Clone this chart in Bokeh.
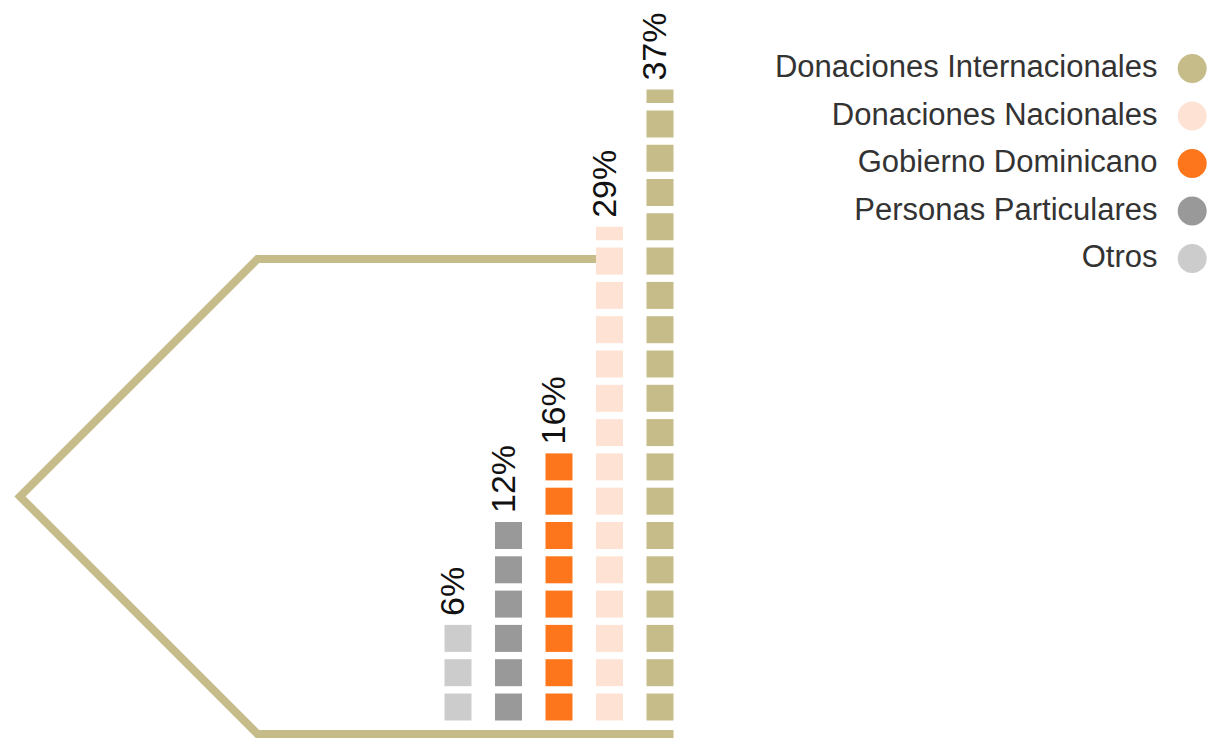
import math
from bokeh.plotting import figure
from bokeh.models import Range1d
from bokeh.core.properties import value
from bokeh.embed import file_html
from bokeh.resources import INLINE

# ---------------- data ----------------
categories = ["Otros", "Personas Particulares", "Gobierno Dominicano",
              "Donaciones Nacionales", "Donaciones Internacionales"]
values = [6, 12, 16, 29, 37]
labels = ["6%", "12%", "16%", "29%", "37%"]
colors = ["#cccccc", "#999999", "#fd761b", "#fee3d5", "#c6bc8a"]
legend_order = ["Donaciones Internacionales", "Donaciones Nacionales",
                "Gobierno Dominicano", "Personas Particulares", "Otros"]
PCT_PER_SQUARE = 2

# ---------------- geometry (styles) ----------------
OX, OY = 0, 0          # page offset of the figure
W, H = 1208, 738
PX_PER_PCT = 17.15     # vertical scale
Y0_PX = 720            # page pixel of 0 %
X0_PX = 457.5          # page pixel of first column centre
PX_PER_COL = 50.5      # column pitch
SQ_PX = 27             # square size
LINE_COLOR = "#c6bc8a"


def dx(px):
    return (px - X0_PX) / PX_PER_COL


def dy(py):
    return (Y0_PX - py) / PX_PER_PCT


p = figure(width=W, height=H,
           x_range=Range1d(dx(OX), dx(OX + W)),
           y_range=Range1d(dy(OY + H), dy(OY)),
           output_backend="svg", toolbar_location=None,
           x_axis_location=None, y_axis_location=None,
           min_border=0)
p.grid.visible = False
p.outline_line_color = None
p.background_fill_color = "white"
p.border_fill_color = "white"

half_w = SQ_PX / 2 / PX_PER_COL
sq_h = SQ_PX / PX_PER_PCT

# bracket line
n_cols = len(values)
bx = [n_cols - 1 + half_w, dx(257), dx(19.5), dx(257), 3 - half_w]
by = [dy(733.5), dy(733.5), dy(496), dy(258.5), dy(258.5)]
p.line(bx, by, line_color=LINE_COLOR, line_width=8, line_join="miter")

# squares
left, right, bottom, top, fill = [], [], [], [], []
label_x, label_y = [], []
for i, (v, c) in enumerate(zip(values, colors)):
    n = v / PCT_PER_SQUARE
    k = 0
    t = 0
    while k < n:
        frac = min(1.0, n - k)
        b = k * PCT_PER_SQUARE
        left.append(i - half_w)
        right.append(i + half_w)
        bottom.append(b)
        top.append(b + sq_h * frac)
        fill.append(c)
        t = b + sq_h * frac
        k += 1
    label_x.append(i - 6 / PX_PER_COL)
    label_y.append(t + 9 / PX_PER_PCT)

p.quad(left=left, right=right, bottom=bottom, top=top,
       fill_color=fill, line_color=None)

p.text(x=label_x, y=label_y, text=labels, angle=math.pi / 2,
       text_align="left", text_baseline="alphabetic",
       text_font_size="34px", text_color="#111111",
       text_font=value("Liberation Sans"))

# legend (manual: label right-aligned, dot to the right)
leg_colors = [colors[categories.index(name)] for name in legend_order]
leg_cy = [dy(68 + 47.5 * j) for j in range(len(legend_order))]
p.scatter(x=[dx(1191.7)] * len(legend_order), y=leg_cy, size=29,
          marker="circle", fill_color=leg_colors, line_color=None)
p.text(x=[dx(1157)] * len(legend_order),
       y=[c + 2 / PX_PER_PCT for c in leg_cy],
       text=legend_order, text_align="right", text_baseline="alphabetic",
       text_font_size="31px", text_color="#333333",
       text_font=value("Liberation Sans"))

open("out.html", "w").write(file_html(p, INLINE))
